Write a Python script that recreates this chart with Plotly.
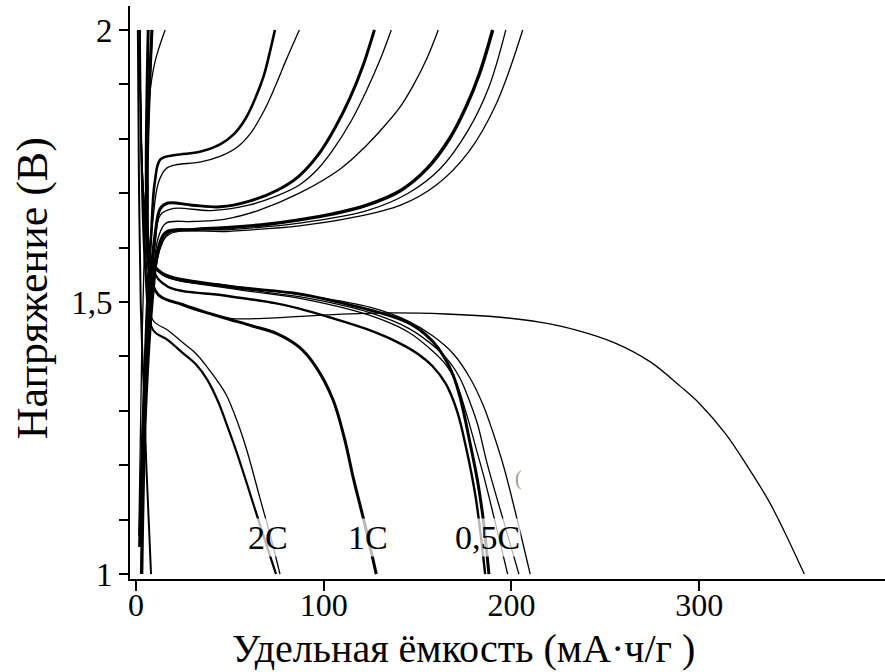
import plotly.graph_objects as go

# ---- discharge curves: capacity (mA·h/g) and voltage (V) ----
dis_fast_x = [1, 1.5, 2.5, 4, 5.5, 7, 8]
dis_fast_y = [2.0, 1.75, 1.5, 1.35, 1.2, 1.08, 1.0]

dis_2c_a_x = [2, 3, 5, 9, 17, 25, 32, 38, 44, 48, 53, 59, 67, 74.6]
dis_2c_a_y = [2.0, 1.75, 1.56, 1.449, 1.43, 1.406, 1.385, 1.357, 1.315, 1.278, 1.23, 1.167, 1.08, 1.0]
dis_2c_b_x = [2, 3, 6, 9, 17, 25, 32, 38, 44, 48, 54, 59, 66, 72, 76.7]
dis_2c_b_y = [2.0, 1.75, 1.55, 1.467, 1.448, 1.425, 1.405, 1.38, 1.352, 1.33, 1.28, 1.228, 1.14,
              1.065, 1.0]

dis_1c_x = [6.5, 5.5, 7, 12, 25, 38, 50, 62, 75, 87, 96, 105, 111, 116, 122, 128]
dis_1c_y = [2.0, 1.72, 1.56, 1.513, 1.495, 1.48, 1.468, 1.456, 1.442, 1.417, 1.38, 1.32, 1.25,
            1.173, 1.09, 1.0]

dis_first_x = [6.5, 5.5, 7, 12, 25, 38, 50, 74, 105, 135, 165, 194, 215, 235, 255, 274, 290, 300,
               314, 327, 337, 345, 356]
dis_first_y = [2.0, 1.72, 1.56, 1.513, 1.495, 1.48, 1.47, 1.471, 1.477, 1.48, 1.478, 1.472, 1.463,
               1.448, 1.425, 1.39, 1.345, 1.314, 1.258, 1.191, 1.135, 1.081, 1.0]

dis_05c_a_x = [8.5, 6, 8, 14, 47, 87, 110, 125, 141, 150, 158, 164, 169, 173, 178, 182, 185, 188]
dis_05c_a_y = [2.0, 1.72, 1.58, 1.553, 1.53, 1.515, 1.498, 1.485, 1.468, 1.452, 1.428, 1.40,
               1.365, 1.32, 1.24, 1.17, 1.1, 1.0]
dis_05c_b_x = [8.5, 6, 9, 17, 47, 74, 87, 105, 123, 140, 150, 158, 165, 171, 176, 181, 186]
dis_05c_b_y = [2.0, 1.72, 1.56, 1.528, 1.512, 1.498, 1.488, 1.47, 1.45, 1.425, 1.405, 1.382,
               1.35, 1.30, 1.23, 1.14, 1.0]
dis_05c_c_x = [2, 4, 8, 14, 50, 90, 125, 145, 158, 165, 170, 176, 181, 186, 191, 198]
dis_05c_c_y = [2.0, 1.7, 1.58, 1.55, 1.525, 1.505, 1.475, 1.445, 1.41, 1.385, 1.357, 1.295,
               1.233, 1.17, 1.1, 1.0]
dis_05c_d_x = [2, 4, 8, 14, 50, 90, 125, 145, 160, 167, 172.6, 178, 182, 187, 196, 204]
dis_05c_d_y = [2.0, 1.7, 1.58, 1.55, 1.527, 1.508, 1.48, 1.452, 1.415, 1.39, 1.36, 1.315, 1.275,
               1.204, 1.095, 1.0]
dis_05c_e_x = [2, 4, 8, 14, 50, 90, 125, 145, 158, 169, 178, 185, 190, 196, 202, 210]
dis_05c_e_y = [2.0, 1.7, 1.58, 1.55, 1.53, 1.512, 1.49, 1.465, 1.438, 1.405, 1.36, 1.31, 1.262,
               1.196, 1.115, 1.0]

# ---- charge curves ----
chg_fast_x = [1.5, 3, 4.5, 5.5, 7, 10, 15.5]
chg_fast_y = [1.07, 1.4, 1.6, 1.75, 1.87, 1.94, 2.0]

chg_2c_a_x = [2, 4, 6, 8, 10, 13, 21, 34, 45, 52, 58, 63, 68, 71, 74]
chg_2c_a_y = [1.05, 1.3, 1.5, 1.62, 1.72, 1.762, 1.77, 1.776, 1.79, 1.808, 1.835, 1.87, 1.915,
              1.955, 2.0]
chg_2c_b_x = [2, 4, 6, 9, 12, 16, 21, 34, 45, 54, 61, 68, 74, 80, 87]
chg_2c_b_y = [1.05, 1.3, 1.5, 1.65, 1.72, 1.745, 1.752, 1.757, 1.768, 1.785, 1.81, 1.85, 1.895,
              1.945, 2.0]

chg_1c_a_x = [2, 4, 7, 10, 13, 17, 30, 45, 60, 75, 87, 98, 106, 114, 121, 127]
chg_1c_a_y = [1.05, 1.3, 1.5, 1.62, 1.672, 1.682, 1.678, 1.675, 1.685, 1.705, 1.732, 1.775, 1.82,
              1.875, 1.935, 2.0]
chg_1c_b_x = [2, 4, 7, 10, 13, 20, 40, 60, 75, 87, 97, 105, 115, 123, 130, 136]
chg_1c_b_y = [1.05, 1.3, 1.5, 1.6, 1.66, 1.672, 1.668, 1.678, 1.695, 1.715, 1.745, 1.78, 1.835,
              1.89, 1.945, 2.0]
chg_1c_c_x = [2, 5, 9, 12, 16, 30, 47, 65, 87, 109, 122, 132, 141, 148, 155, 161]
chg_1c_c_y = [1.05, 1.35, 1.55, 1.62, 1.645, 1.648, 1.652, 1.668, 1.70, 1.745, 1.785, 1.822, 1.86,
              1.9, 1.948, 2.0]

chg_05c_a_x = [3, 5, 9, 12, 16, 30, 50, 70, 87, 105, 123, 141, 155, 167, 176, 183, 190]
chg_05c_a_y = [1.0, 1.3, 1.52, 1.6, 1.628, 1.633, 1.637, 1.643, 1.651, 1.662, 1.678, 1.705,
               1.745, 1.80, 1.86, 1.92, 2.0]
chg_05c_b_x = [3, 5, 9, 13, 18, 50, 87, 123, 145, 162, 177, 188, 197]
chg_05c_b_y = [1.0, 1.3, 1.52, 1.6, 1.628, 1.633, 1.645, 1.668, 1.70, 1.745, 1.816, 1.895, 2.0]
chg_05c_c_x = [3, 5, 9, 13, 18, 50, 87, 115, 141, 160, 177, 192, 206]
chg_05c_c_y = [1.0, 1.3, 1.52, 1.6, 1.625, 1.63, 1.64, 1.655, 1.678, 1.715, 1.775, 1.865, 2.0]

# rate labels
rate_labels = ["2C", "1C", "0,5C"]
rate_label_x = [70.3, 123.6, 187.5]
rate_label_y = [1.068, 1.068, 1.068]

x_ticks = [0, 100, 200, 300]
y_ticks = [1, 1.5, 2]
y_ticktext = ["1", "1,5", "2"]

# (x, y, width) for every curve; thick ones are bundles of near-identical cycles
curves = [
    (dis_fast_x, dis_fast_y, 2.0),
    (dis_2c_a_x, dis_2c_a_y, 2.2),
    (dis_2c_b_x, dis_2c_b_y, 1.3),
    (dis_1c_x, dis_1c_y, 3.0),
    (dis_first_x, dis_first_y, 1.3),
    (dis_05c_a_x, dis_05c_a_y, 3.0),
    (dis_05c_b_x, dis_05c_b_y, 2.4),
    (dis_05c_c_x, dis_05c_c_y, 1.3),
    (dis_05c_d_x, dis_05c_d_y, 1.3),
    (dis_05c_e_x, dis_05c_e_y, 1.3),
    (chg_fast_x, chg_fast_y, 1.3),
    (chg_2c_a_x, chg_2c_a_y, 2.6),
    (chg_2c_b_x, chg_2c_b_y, 1.3),
    (chg_1c_a_x, chg_1c_a_y, 3.0),
    (chg_1c_b_x, chg_1c_b_y, 1.3),
    (chg_1c_c_x, chg_1c_c_y, 1.3),
    (chg_05c_a_x, chg_05c_a_y, 3.4),
    (chg_05c_b_x, chg_05c_b_y, 1.3),
    (chg_05c_c_x, chg_05c_c_y, 1.3),
]

SERIF = "Liberation Serif, Times New Roman, serif"

fig = go.Figure()
for cx, cy, w in curves:
    fig.add_trace(go.Scatter(
        x=cx, y=cy, mode="lines",
        line=dict(color="black", width=w, shape="spline", smoothing=1.0),
        hoverinfo="skip", showlegend=False,
    ))

for txt, lx, ly in zip(rate_labels, rate_label_x, rate_label_y):
    fig.add_annotation(
        x=lx, y=ly, xref="x", yref="y", text=txt, showarrow=False,
        font=dict(family=SERIF, size=34, color="black"),
        bgcolor="rgba(255,255,255,0.72)", borderpad=0,
    )

fig.add_annotation(x=203.5, y=1.176, xref="x", yref="y", text="(", showarrow=False,
                   font=dict(family=SERIF, size=20, color="#9a9a9a"))

# axis titles
fig.add_annotation(
    x=0.442, y=-0.122, xref="paper", yref="paper", xanchor="center", yanchor="middle",
    text="Удельная ёмкость (мА·ч/г )", showarrow=False,
    font=dict(family=SERIF, size=40, color="black"),
)
fig.add_annotation(
    x=-0.128, y=0.508, xref="paper", yref="paper", xanchor="center", yanchor="middle",
    text="Напряжение (В)", textangle=-90, showarrow=False,
    font=dict(family=SERIF, size=44, color="black"),
)

fig.update_layout(
    width=885, height=672,
    margin=dict(l=130, r=0, t=6, b=93),
    paper_bgcolor="white", plot_bgcolor="white",
    xaxis=dict(
        range=[-3.2, 399], tickvals=x_ticks, ticktext=[str(v) for v in x_ticks],
        showline=True, linecolor="black", linewidth=2, ticks="outside",
        ticklen=10, tickwidth=1.5, tickcolor="black", showgrid=False, zeroline=False,
        tickfont=dict(family=SERIF, size=32, color="black"),
        ticklabelstandoff=-13,
    ),
    yaxis=dict(
        range=[0.991, 2.044], tickvals=y_ticks, ticktext=y_ticktext,
        showline=True, linecolor="black", linewidth=2, ticks="outside",
        ticklen=9, tickwidth=1.5, tickcolor="black", showgrid=False, zeroline=False,
        tickfont=dict(family=SERIF, size=33, color="black"),
        minor=dict(dtick=0.1, tick0=1, ticks="outside", ticklen=9, tickwidth=1.5,
                   tickcolor="black", showgrid=False),
    ),
)

fig.write_html("out.html")
